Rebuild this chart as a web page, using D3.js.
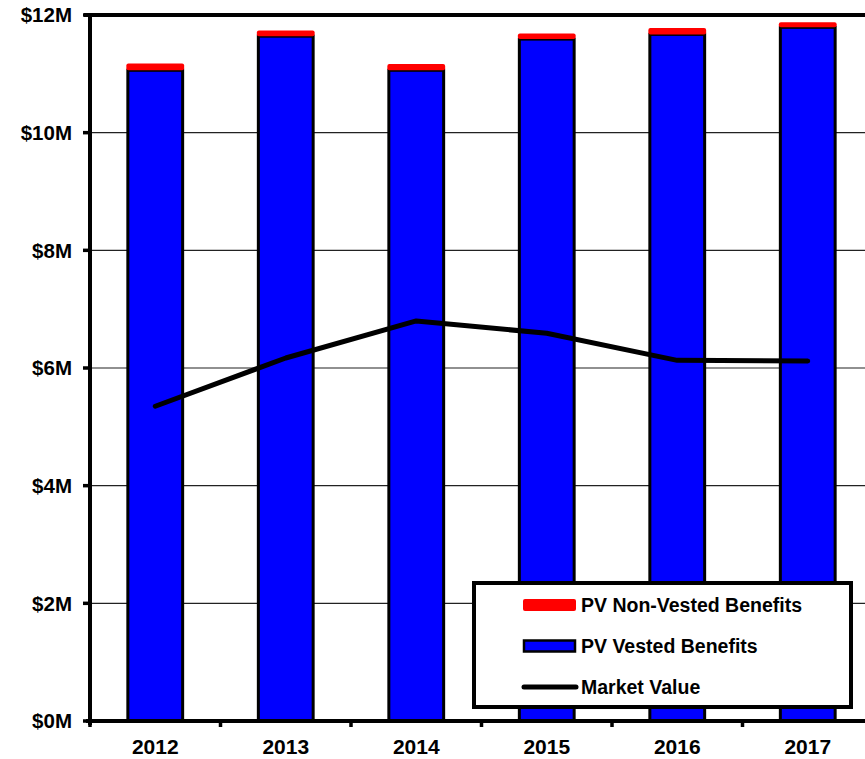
<!DOCTYPE html>
<html><head><meta charset="utf-8">
<script src="https://cdn.jsdelivr.net/npm/d3@7"></script>
<style>body{margin:0;background:#fff}svg{display:block}text{font-family:"Liberation Sans",Arial,sans-serif;font-weight:bold;fill:#000}</style>
</head><body>
<script>
const years = ["2012","2013","2014","2015","2016","2017"];
const vested = [11.06, 11.64, 11.06, 11.59, 11.67, 11.79];
const nonVested = [0.10, 0.08, 0.09, 0.08, 0.09, 0.07];
const marketValue = [5.35, 6.17, 6.80, 6.59, 6.13, 6.12];
const yTicks = [0, 2, 4, 6, 8, 10, 12];
const legendLabels = ["PV Non-Vested Benefits", "PV Vested Benefits", "Market Value"];

const W = 865, H = 759;
const svg = d3.select("body").append("svg").attr("width", W).attr("height", H);
const x = d3.scaleBand().domain(years).range([90, 873]).padding(0);
const y = d3.scaleLinear().domain([0, 12]).range([721, 15]);
const bw = x.bandwidth();
const barW = bw * 0.42;

// gridlines
svg.append("g").selectAll("line").data(yTicks.filter(d => d > 0 && d < 12)).join("line")
  .attr("x1", 90).attr("x2", W).attr("y1", d => y(d)).attr("y2", d => y(d))
  .attr("stroke", "#222").attr("stroke-width", 1.2);

// bars
const bars = svg.append("g");
years.forEach((yr, i) => {
  const cx = x(yr) + bw / 2;
  bars.append("rect").attr("x", cx - barW / 2).attr("width", barW)
    .attr("y", y(vested[i])).attr("height", y(0) - y(vested[i]))
    .attr("fill", "#0000ff").attr("stroke", "#000").attr("stroke-width", 3);
  bars.append("rect").attr("x", cx - barW / 2 - 1.5).attr("width", barW + 3)
    .attr("y", y(vested[i] + nonVested[i]) - 1).attr("height", y(vested[i]) - y(vested[i] + nonVested[i]) + 1)
    .attr("rx", 2).attr("fill", "#ff0000");
});

// market value line
svg.append("path").datum(marketValue)
  .attr("d", d3.line().x((d, i) => x(years[i]) + bw / 2).y(d => y(d)))
  .attr("fill", "none").attr("stroke", "#000").attr("stroke-width", 5)
  .attr("stroke-linecap", "round").attr("stroke-linejoin", "round");

// frame/axes
svg.append("line").attr("x1", 84).attr("x2", W).attr("y1", 15).attr("y2", 15).attr("stroke", "#000").attr("stroke-width", 4);
svg.append("line").attr("x1", 90).attr("x2", 90).attr("y1", 13).attr("y2", 725).attr("stroke", "#000").attr("stroke-width", 4);
svg.append("line").attr("x1", 86).attr("x2", W).attr("y1", 721).attr("y2", 721).attr("stroke", "#000").attr("stroke-width", 4);

// y ticks
const yAxis = svg.append("g");
yTicks.forEach(t => {
  yAxis.append("line").attr("x1", 83).attr("x2", 90).attr("y1", y(t)).attr("y2", y(t)).attr("stroke", "#000").attr("stroke-width", 3.5);
  yAxis.append("text").attr("x", 72).attr("y", y(t)).attr("dy", "0.35em").attr("text-anchor", "end")
    .attr("font-size", 20.5).text("$" + t + "M");
});

// x ticks
const xAxis = svg.append("g");
years.forEach((yr, i) => {
  xAxis.append("line").attr("x1", x(yr)).attr("x2", x(yr)).attr("y1", 721).attr("y2", 727).attr("stroke", "#000").attr("stroke-width", 3.5);
  xAxis.append("text").attr("x", x(yr) + bw / 2).attr("y", 747).attr("dy", "0.35em").attr("text-anchor", "middle")
    .attr("font-size", 21).text(yr);
});

// legend
const lg = svg.append("g");
lg.append("rect").attr("x", 474).attr("y", 583).attr("width", 377).attr("height", 124)
  .attr("fill", "#fff").attr("stroke", "#000").attr("stroke-width", 4);
const ly = [605, 646, 687];
lg.append("rect").attr("x", 523).attr("y", ly[0] - 6).attr("width", 53).attr("height", 12).attr("rx", 2).attr("fill", "#ff0000");
lg.append("rect").attr("x", 524).attr("y", ly[1] - 5.5).attr("width", 51).attr("height", 11).attr("fill", "#0000ff").attr("stroke", "#000").attr("stroke-width", 2.5);
lg.append("line").attr("x1", 524).attr("x2", 576).attr("y1", ly[2]).attr("y2", ly[2]).attr("stroke", "#000").attr("stroke-width", 5).attr("stroke-linecap", "round");
legendLabels.forEach((l, i) => {
  lg.append("text").attr("x", 581).attr("y", ly[i]).attr("dy", "0.35em").attr("font-size", 19.5).text(l);
});
</script>
</body></html>
